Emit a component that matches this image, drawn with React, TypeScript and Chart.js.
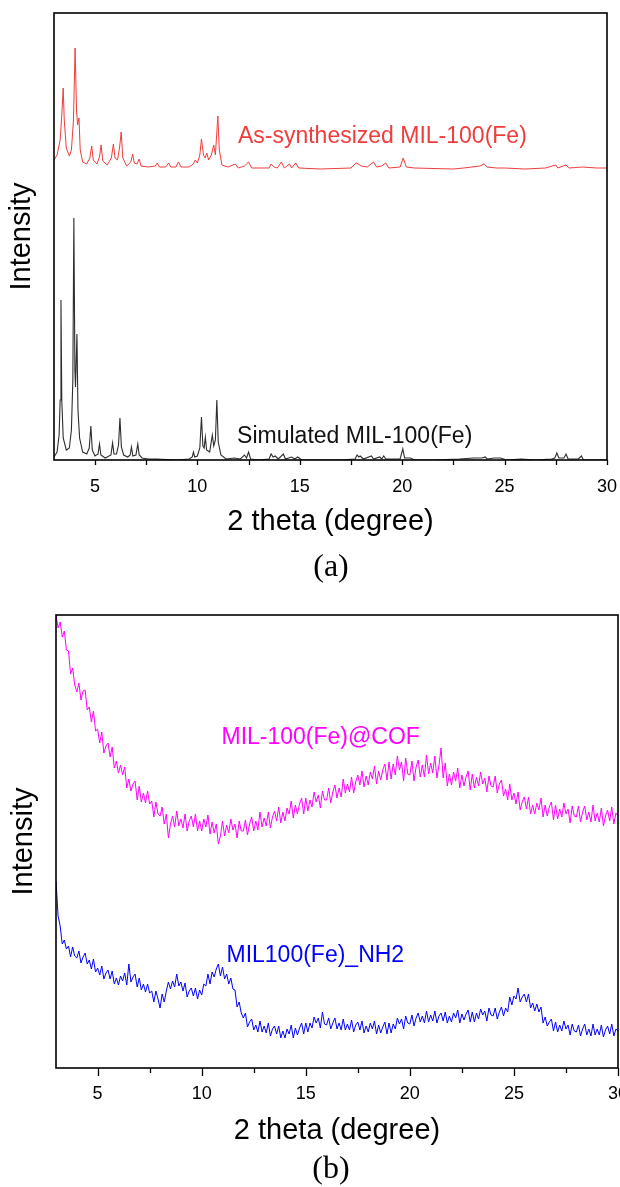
import React, { useEffect, useRef } from "react";
import { Chart, registerables } from "chart.js";

Chart.register(...registerables);

const SANS = "'Liberation Sans', Arial, Helvetica, sans-serif";
const SERIF = "'Liberation Serif', 'Times New Roman', serif";

// ---------- Panel (a): [2theta, intensity] ----------
const simulated: [number, number][] = [
  [3.0, 3], [3.15, 8], [3.25, 25], [3.3, 60], [3.34, 160], [3.38, 60], [3.45, 22], [3.6, 10],
  [3.75, 12], [3.85, 30], [3.92, 80], [3.97, 242], [4.02, 90], [4.05, 73], [4.12, 126], [4.17, 50],
  [4.25, 22], [4.4, 8], [4.6, 6], [4.72, 12], [4.8, 34], [4.87, 10], [5.0, 4], [5.15, 6], [5.22, 16],
  [5.29, 5], [5.5, 2], [5.78, 5], [5.86, 17], [5.93, 6], [6.05, 6], [6.15, 15], [6.22, 42], [6.29, 13],
  [6.4, 5], [6.6, 3], [6.72, 5], [6.78, 13], [6.85, 4], [7.0, 5], [7.09, 16], [7.16, 5], [7.3, 2],
  [7.6, 1], [8.0, 1], [9.0, 0], [9.6, 1], [9.75, 3], [9.81, 8], [9.87, 3], [10.0, 4], [10.12, 12],
  [10.2, 43], [10.27, 14], [10.33, 12], [10.39, 23], [10.45, 10], [10.6, 8], [10.73, 25], [10.8, 14],
  [10.88, 20], [10.95, 60], [11.02, 18], [11.15, 5], [11.4, 1], [11.8, 2], [12.1, 1], [12.3, 5],
  [12.4, 2], [12.5, 8], [12.6, 1], [13.0, 0], [13.5, 1], [13.6, 6], [13.7, 3], [13.8, 4], [13.95, 1],
  [14.2, 6], [14.3, 1], [14.6, 3], [14.75, 1], [14.9, 3], [15.1, 0], [16.0, 0], [17.0, 0], [17.7, 1],
  [17.8, 5], [17.88, 3], [17.95, 4], [18.1, 1], [18.5, 4], [18.6, 1], [18.9, 3], [19.0, 1], [19.1, 4],
  [19.2, 1], [19.9, 1], [20.03, 11], [20.12, 2], [20.4, 2], [20.6, 0], [21.5, 0], [22.8, 1], [23.5, 2],
  [23.9, 2], [24.05, 3], [24.15, 1], [24.5, 2], [24.8, 2], [25.1, 0], [25.8, 1], [26.5, 0], [27.3, 1],
  [27.45, 2], [27.55, 7], [27.65, 2], [27.9, 2], [28.0, 6], [28.1, 1], [28.6, 1], [28.75, 4], [28.85, 0],
  [30.0, 0],
];

const asSynthesized: [number, number][] = [
  [3.0, 300], [3.15, 305], [3.3, 320], [3.38, 345], [3.45, 372], [3.5, 340], [3.6, 312], [3.75, 304],
  [3.85, 310], [3.95, 340], [4.03, 412], [4.1, 350], [4.15, 335], [4.22, 342], [4.28, 310], [4.4, 298],
  [4.6, 296], [4.75, 302], [4.84, 314], [4.92, 300], [5.1, 296], [5.22, 303], [5.3, 315], [5.38, 299],
  [5.6, 295], [5.8, 302], [5.9, 316], [5.98, 302], [6.1, 300], [6.2, 312], [6.28, 328], [6.36, 302],
  [6.55, 294], [6.75, 298], [6.84, 306], [6.92, 297], [7.05, 296], [7.16, 301], [7.25, 294], [7.6, 293],
  [7.95, 294], [8.04, 297], [8.15, 293], [8.45, 293], [8.6, 297], [8.7, 293], [8.95, 293], [9.08, 298],
  [9.2, 293], [9.6, 293], [9.8, 296], [9.9, 300], [10.0, 297], [10.12, 305], [10.2, 321], [10.3, 305],
  [10.38, 302], [10.46, 307], [10.55, 300], [10.68, 305], [10.8, 315], [10.88, 305], [11.0, 344],
  [11.07, 310], [11.2, 295], [11.5, 293], [11.85, 296], [12.0, 292], [12.3, 294], [12.5, 298],
  [12.65, 292], [13.5, 292], [13.6, 296], [13.75, 293], [13.9, 292], [14.1, 298], [14.25, 292],
  [14.5, 296], [14.6, 292], [14.8, 297], [14.95, 292], [16.0, 291], [17.5, 292], [17.75, 297],
  [17.85, 296], [18.0, 294], [18.3, 293], [18.6, 298], [18.75, 293], [19.0, 294], [19.2, 297],
  [19.35, 292], [19.9, 293], [20.05, 302], [20.2, 293], [20.6, 292], [22.5, 291], [23.0, 292],
  [23.4, 293], [23.8, 294], [24.0, 296], [24.15, 293], [24.6, 292], [25.0, 292], [26.0, 291],
  [27.0, 292], [27.5, 295], [27.6, 292], [28.0, 295], [28.15, 292], [28.8, 293], [29.5, 292], [30.0, 292],
];

// ---------- Panel (b): intensities sampled every 0.1 degree from 3.0 to 30.0 ----------
const scanStart = 3.0;
const scanStep = 0.1;
const cofIntensity: number[] = [
  453, 440, 446, 431, 437, 418, 417, 394, 400, 383,
  376, 385, 368, 377, 378, 358, 361, 346, 357, 337,
  339, 325, 336, 315, 322, 325, 311, 321, 300, 307,
  295, 303, 293, 301, 280, 289, 277, 284, 287, 268,
  282, 266, 275, 265, 277, 264, 267, 251, 266, 254,
  252, 261, 244, 254, 230, 244, 252, 241, 257, 242,
  249, 240, 254, 237, 247, 252, 241, 254, 237, 247,
  237, 249, 241, 253, 234, 246, 235, 244, 224, 232,
  247, 232, 243, 235, 249, 238, 244, 230, 247, 237,
  237, 248, 233, 244, 251, 237, 247, 238, 256, 241,
  250, 242, 256, 240, 251, 257, 247, 261, 245, 256,
  247, 260, 254, 267, 250, 263, 254, 264, 270, 254,
  270, 257, 268, 261, 276, 266, 273, 260, 277, 268,
  268, 280, 265, 276, 283, 270, 280, 271, 289, 275,
  284, 276, 291, 275, 286, 293, 283, 297, 281, 292,
  283, 296, 289, 302, 284, 297, 288, 298, 304, 288,
  306, 289, 304, 293, 312, 298, 306, 287, 310, 294,
  293, 307, 287, 301, 308, 291, 303, 291, 313, 294,
  305, 295, 312, 290, 303, 320, 290, 305, 282, 294,
  283, 296, 287, 300, 280, 293, 282, 291, 297, 278,
  294, 280, 291, 282, 296, 284, 290, 276, 292, 282,
  281, 292, 275, 284, 288, 272, 279, 268, 284, 268,
  275, 264, 276, 258, 266, 271, 259, 271, 254, 263,
  254, 265, 258, 270, 251, 263, 252, 261, 266, 248,
  263, 249, 259, 251, 265, 254, 259, 245, 262, 252,
  251, 262, 246, 256, 262, 248, 256, 246, 263, 247,
  255, 246, 260, 242, 252, 258, 247, 261, 244, 255,
  252,
];
const nh2Intensity: number[] = [
  187, 152, 142, 124, 128, 119, 122, 111, 121, 112,
  110, 117, 105, 111, 115, 104, 108, 99, 109, 96,
  100, 93, 102, 89, 95, 98, 89, 97, 84, 90,
  83, 92, 87, 95, 83, 104, 86, 91, 94, 81,
  90, 78, 84, 76, 84, 75, 77, 66, 77, 69,
  60, 74, 66, 77, 86, 79, 87, 81, 94, 82,
  86, 77, 85, 71, 77, 80, 72, 80, 69, 78,
  73, 84, 82, 94, 84, 96, 91, 99, 104, 92,
  101, 89, 94, 84, 90, 79, 78, 61, 66, 55,
  50, 55, 41, 46, 49, 38, 43, 36, 47, 36,
  42, 35, 45, 32, 39, 42, 34, 42, 30, 37,
  30, 39, 34, 43, 30, 40, 33, 40, 45, 34,
  45, 36, 45, 40, 51, 45, 50, 40, 56, 44,
  43, 50, 39, 45, 50, 39, 45, 38, 49, 38,
  44, 38, 48, 36, 43, 46, 38, 47, 35, 42,
  36, 45, 39, 47, 34, 43, 35, 41, 46, 34,
  45, 35, 44, 39, 50, 44, 49, 39, 52, 45,
  44, 53, 42, 50, 55, 46, 52, 45, 57, 46,
  53, 47, 57, 45, 52, 55, 47, 56, 45, 52,
  46, 55, 50, 58, 45, 54, 48, 54, 58, 46,
  56, 46, 55, 49, 59, 53, 57, 47, 60, 53,
  52, 60, 49, 56, 61, 52, 60, 56, 71, 63,
  72, 69, 80, 66, 71, 74, 66, 74, 60, 65,
  57, 64, 56, 61, 45, 51, 42, 46, 49, 37,
  46, 36, 43, 37, 47, 39, 43, 33, 44, 37,
  36, 43, 32, 39, 44, 33, 39, 32, 44, 33,
  39, 33, 43, 31, 38, 42, 34, 44, 32, 39,
  37,
];

const majorTicks = [5, 10, 15, 20, 25, 30];
const minorTicks = [7.5, 12.5, 17.5, 22.5, 27.5];
const xMin = 3;
const xMax = 30;

const COLORS = {
  simulated: "#2e2e2e",
  synthesized: "#f03c3c",
  cof: "#ff00ff",
  nh2: "#0000ff",
};

type TextItem = { text: string; x: number; y: number; color: string };

type PanelCfg = {
  padding: { top: number; right: number; left: number; bottom: number };
  yWidth: number;
  xHeight: number;
  xTitlePad: number;
  yTitlePad: number;
  tickPad: number;
  yMax: number;
  majorLen: number;
  minorLen: number;
  texts: TextItem[];
  caption: string;
  captionDy: number;
  captionX: number;
  datasets: any[];
};

function makeChart(canvas: HTMLCanvasElement, cfg: PanelCfg) {
  const decor = {
    id: "decor",
    afterDraw(chart: any) {
      const { ctx, chartArea: a, scales } = chart;
      const xs = scales.x;
      const ys = scales.y;
      ctx.save();
      // tick marks
      ctx.strokeStyle = "#000";
      ctx.lineWidth = 1.3;
      ctx.beginPath();
      for (const v of majorTicks) {
        const px = Math.round(xs.getPixelForValue(v)) + 0.5;
        ctx.moveTo(px, a.bottom);
        ctx.lineTo(px, a.bottom + cfg.majorLen);
      }
      for (const v of minorTicks) {
        const px = Math.round(xs.getPixelForValue(v)) + 0.5;
        ctx.moveTo(px, a.bottom);
        ctx.lineTo(px, a.bottom + cfg.minorLen);
      }
      ctx.stroke();
      // frame
      ctx.lineWidth = 1.6;
      ctx.strokeRect(a.left, a.top, a.right - a.left, a.bottom - a.top);
      // series labels
      ctx.textAlign = "left";
      ctx.textBaseline = "alphabetic";
      ctx.font = `23px ${SANS}`;
      for (const t of cfg.texts) {
        ctx.fillStyle = t.color;
        ctx.fillText(t.text, xs.getPixelForValue(t.x), ys.getPixelForValue(t.y));
      }
      // caption
      ctx.fillStyle = "#000";
      ctx.font = `32px ${SERIF}`;
      ctx.textAlign = "center";
      ctx.textBaseline = "middle";
      ctx.fillText(cfg.caption, cfg.captionX, a.bottom + cfg.captionDy);
      ctx.restore();
    },
  };

  return new Chart(canvas, {
    type: "line",
    data: { datasets: cfg.datasets },
    plugins: [decor],
    options: {
      animation: false,
      responsive: false,
      devicePixelRatio: 1,
      layout: { padding: cfg.padding },
      elements: { point: { radius: 0 }, line: { tension: 0 } },
      plugins: { legend: { display: false }, tooltip: { enabled: false }, title: { display: false } },
      scales: {
        x: {
          type: "linear",
          min: xMin,
          max: xMax,
          border: { display: false },
          grid: { display: false },
          afterBuildTicks: (s: any) => {
            s.ticks = [...majorTicks, ...minorTicks].sort((p, q) => p - q).map((v) => ({ value: v }));
          },
          afterFit: (s: any) => {
            s.height = cfg.xHeight;
            s.paddingLeft = 0;
            s.paddingRight = 0;
          },
          ticks: {
            autoSkip: false,
            maxRotation: 0,
            padding: cfg.tickPad,
            color: "#000",
            font: { family: SANS, size: 18 },
            callback: (v: any) => (majorTicks.includes(Number(v)) ? String(v) : ""),
          },
          title: {
            display: true,
            text: "2 theta (degree)",
            color: "#000",
            font: { family: SANS, size: 29 },
            padding: { top: 0, bottom: cfg.xTitlePad },
          },
        },
        y: {
          type: "linear",
          min: 0,
          max: cfg.yMax,
          border: { display: false },
          grid: { display: false },
          ticks: { display: false },
          afterFit: (s: any) => {
            s.width = cfg.yWidth;
          },
          title: {
            display: true,
            text: "Intensity",
            color: "#000",
            font: { family: SANS, size: 29 },
            padding: { top: cfg.yTitlePad, bottom: 0 },
          },
        },
      },
    },
  });
}

export default function App() {
  const refA = useRef<HTMLCanvasElement | null>(null);
  const refB = useRef<HTMLCanvasElement | null>(null);

  useEffect(() => {
    const toPoints = (arr: [number, number][]) => arr.map(([x, y]) => ({ x, y }));
    const scanPoints = (arr: number[]) =>
      arr.map((y, i) => ({ x: +(scanStart + i * scanStep).toFixed(2), y }));

    const chartA = makeChart(refA.current!, {
      padding: { top: 13, right: 13, left: 0, bottom: 0 },
      yWidth: 54,
      xHeight: 140,
      xTitlePad: 60.6,
      yTitlePad: 5,
      tickPad: 8,
      yMax: 447,
      majorLen: 5,
      minorLen: 5,
      texts: [
        { text: "As-synthesized MIL-100(Fe)", x: 11.98, y: 317, color: COLORS.synthesized },
        { text: "Simulated MIL-100(Fe)", x: 11.94, y: 17, color: "#111111" },
      ],
      caption: "(a)",
      captionDy: 108,
      captionX: 331,
      datasets: [
        { label: "As-synthesized MIL-100(Fe)", data: toPoints(asSynthesized), borderColor: COLORS.synthesized, borderWidth: 1, fill: false },
        { label: "Simulated MIL-100(Fe)", data: toPoints(simulated), borderColor: COLORS.simulated, borderWidth: 1.1, fill: false },
      ],
    });

    const chartB = makeChart(refB.current!, {
      padding: { top: 20, right: 2, left: 0, bottom: 0 },
      yWidth: 56,
      xHeight: 119,
      xTitlePad: 38.6,
      yTitlePad: 7,
      tickPad: 7,
      yMax: 453,
      majorLen: 8,
      minorLen: 5,
      texts: [
        { text: "MIL-100(Fe)@COF", x: 10.95, y: 324, color: COLORS.cof },
        { text: "MIL100(Fe)_NH2", x: 11.19, y: 106, color: COLORS.nh2 },
      ],
      caption: "(b)",
      captionDy: 102,
      captionX: 331,
      datasets: [
        { label: "MIL-100(Fe)@COF", data: scanPoints(cofIntensity), borderColor: COLORS.cof, borderWidth: 1, fill: false },
        { label: "MIL100(Fe)_NH2", data: scanPoints(nh2Intensity), borderColor: COLORS.nh2, borderWidth: 1, fill: false },
      ],
    });

    return () => {
      chartA.destroy();
      chartB.destroy();
    };
  }, []);

  return (
    <div style={{ position: "absolute", left: 0, top: 0, width: 620, height: 1187, background: "#fff", overflow: "hidden" }}>
      <canvas ref={refA} width={620} height={600} style={{ position: "absolute", left: 0, top: 0, width: 620, height: 600 }} />
      <canvas ref={refB} width={620} height={592} style={{ position: "absolute", left: 0, top: 595, width: 620, height: 592 }} />
    </div>
  );
}
